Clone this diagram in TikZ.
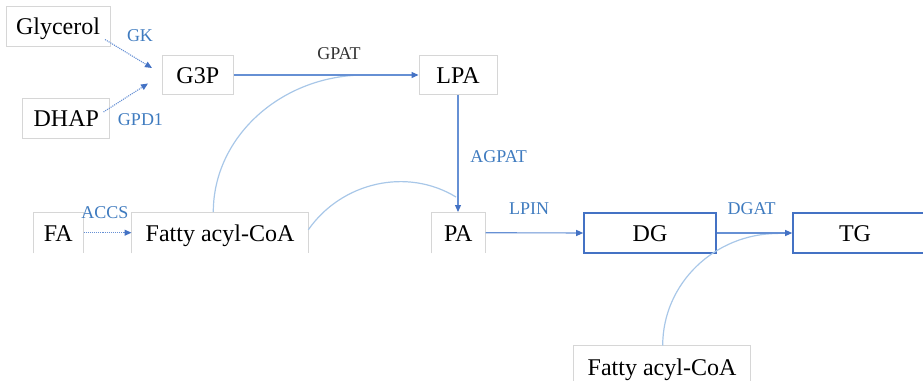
\documentclass[tikz,border=0pt]{standalone}
\usepackage{fontspec}
\setmainfont{Liberation Serif}
\usetikzlibrary{arrows.meta}

\definecolor{flow}{HTML}{6690D4}
\definecolor{flowtip}{HTML}{4472C4}
\definecolor{feed}{HTML}{A8C7E8}
\definecolor{enz}{HTML}{3F7BBF}
\definecolor{frame}{HTML}{D6D6D6}
\definecolor{keybox}{HTML}{4472C4}

\tikzset{
  metab/.style={inner sep=0pt, font=\fontsize{24}{28}\selectfont,
    text height=22pt, text depth=5pt},
  plainbox/.style={metab, draw=frame, line width=0.9pt},
  bare/.style={metab, draw=none},
  keynode/.style={metab, draw=keybox, line width=1.6pt},
  enzyme/.style={inner sep=0pt, text=enz, font=\fontsize{18}{21}\selectfont},
  tip/.style={-{Triangle[length=7pt,width=6pt,color=flowtip]}},
  mainflow/.style={tip, draw=flow, line width=1.1pt},
  dotflow/.style={tip, draw=flow, line width=1.1pt, densely dotted},
  acyl/.style={draw=feed, line width=1.2pt},
  openframe/.style={draw=frame, line width=0.9pt}
}

\begin{document}
\begin{tikzpicture}[x=1pt,y=-1pt]
\useasboundingbox (0,0) rectangle (923,380);

% metabolites
\node[plainbox, minimum width=104pt, minimum height=40pt] (gly) at (58,26) {Glycerol};
\node[plainbox, minimum width=87pt, minimum height=40pt] (dhap) at (66.3,118.3) {DHAP};
\node[plainbox, minimum width=71pt, minimum height=39pt] (g3p) at (197.8,75) {G3P};
\node[plainbox, minimum width=78pt, minimum height=39pt] (lpa) at (458,75) {LPA};
\node[bare, minimum width=50pt, minimum height=41pt] (fa) at (58.3,232.7) {FA};
\node[bare, minimum width=176.6pt, minimum height=41pt] (coa) at (220,232.7) {Fatty acyl-CoA};
\node[bare, minimum width=54pt, minimum height=41pt] (pa) at (458.3,232.7) {PA};
\node[keynode, minimum width=132pt, minimum height=40pt] (dg) at (650,233) {DG};
\node[keynode, minimum width=140pt, minimum height=40pt] (tg) at (863,233) {TG\hspace*{16pt}};
\node[bare, minimum width=176pt, minimum height=43pt] (coab) at (662,367.2) {Fatty acyl-CoA};

% frames open at the bottom
\draw[openframe] (fa.south west) |- (fa.north east) -- (fa.south east);
\draw[openframe] (coa.south west) |- (coa.north east) -- (coa.south east);
\draw[openframe] (pa.south west) |- (pa.north east) -- (pa.south east);
\draw[openframe] (coab.south west) |- (coab.north east) -- (coab.south east);

% enzyme labels
\node[enzyme] (gk) at (140,36) {GK};
\node[enzyme] (gpd) at (140.5,120) {GPD1};
\node[enzyme, text=black!80] (gpat) at (339,54) {GPAT};
\node[enzyme] (agpat) at (498.6,156.5) {AGPAT};
\node[enzyme] (accs) at (105,213) {ACCS};
\node[enzyme] (lpin) at (529,208.5) {LPIN};
\node[enzyme] (dgat) at (751.7,208.5) {DGAT};

% end points of the converging arrows and acyl-CoA feeds
\coordinate (glyout) at (105,39.5);
\coordinate (glyin) at (152,68);
\coordinate (dhapout) at (103.5,112);
\coordinate (dhapin) at (148,83.5);
\coordinate (feedA) at (213.3,212);
\coordinate (joinA) at (365,75);
\coordinate (feedB) at (308.3,229.8);
\coordinate (joinB) at (456,197);
\coordinate (feedC) at (662.7,345.5);
\coordinate (joinC) at (778,233.5);

% dotted steps
\draw[dotflow] (glyout) -- (glyin);
\draw[dotflow] (dhapout) -- (dhapin);
\draw[dotflow] (fa.east) -- (coa.west);

% acyl-CoA feeds
\draw[acyl] (feedA) .. controls (213.3,136.8) and (281.3,75) .. (joinA);
\draw[acyl] (feedB) .. controls (341.3,182.4) and (406.7,167) .. (joinB);
\draw[acyl] (feedC) .. controls (662.7,283.7) and (714.4,233.5) .. (joinC);

% main pathway
\draw[mainflow] (g3p.east) -- (lpa.west);
\draw[mainflow] (lpa.south) -- (lpa.south |- pa.north);
\draw[mainflow] (pa.east) -- (dg.west);
\draw[mainflow] (dg.east) -- (tg.west);
\end{tikzpicture}
\end{document}
